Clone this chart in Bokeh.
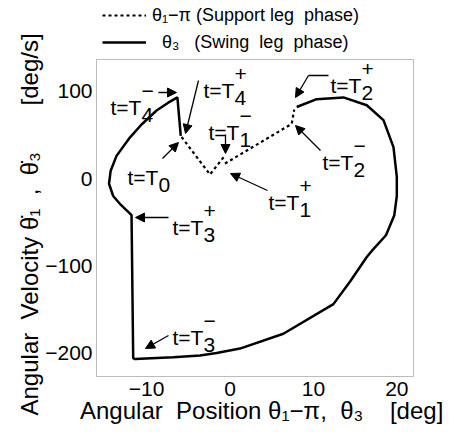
import numpy as np
from bokeh.plotting import figure
from bokeh.models import (Range1d, FixedTicker, Label, Arrow, NormalHead, Legend, LegendItem,
                          BoxAnnotation, Title)
from bokeh.embed import file_html
from bokeh.resources import INLINE

NB = "\u00a0"  # non-breaking space (keeps multiple spaces in SVG text)

# ---------------- data ----------------
# swing leg theta3 (deg) / dtheta3 (deg/s), from T2+ clockwise to T4-, then jump to T4+
swing_pos = [8.0, 10.4, 13.6, 16.4, 18.4, 19.6, 20.0, 20.0, 19.7, 18.7, 17.0, 16.4,
             14.4, 12.4, 6.4, 1.2, -1.6, -3.6, -6.8, -11.4, -11.6,
             -11.8, -13.1, -14.0, -14.5, -14.3, -13.6, -12.0, -10.6, -8.8, -7.4, -6.3, -5.9]
swing_vel = [82, 91, 93, 84, 67, 36, 2, -20, -42, -65, -83, -90,
             -118, -144, -178, -195, -200, -203, -205, -207, -206,
             -42, -30, -20, -6, 9, 26, 47, 62, 78, 87, 93, 49]
# support leg theta1 - pi : T0 -> T1-  and  T1+ -> T2- -> T2+
support_pos_a = [-5.8, -2.4, -0.7]
support_vel_a = [47.6, 4.6, 25.2]
support_pos_b = [-0.6, 7.4, 7.7]
support_vel_b = [17.2, 62.7, 79.0]

x_ticks = [-10, 0, 10, 20]
y_ticks = [-200, -100, 0, 100]
x_tick_labels = ["\u221210", "0", "10", "20"]
y_tick_labels = ["\u2212200", "\u2212100", "0", "100"]

legend_labels = ["\u03b8\u2081\u2212\u03c0 (Support leg  phase)",
                 "  \u03b8\u2083   (Swing  leg  phase)"]
x_title = "  Angular  Position \u03b8\u2081\u2212\u03c0,  \u03b8\u2083    [deg]"
y_title = "Angular  Velocity \u03b8\u0307\u2081  ,  \u03b8\u0307\u2083       [deg/s]"

# axes box limits
X0, X1 = -16, 22
Y0, Y1 = -227, 136.5

# ---------------- layout (page pixels) ----------------
BOX_L, BOX_T, BOX_W, BOX_H = 96, 59, 317, 317
SX = BOX_W / (X1 - X0)
SY = BOX_H / (Y1 - Y0)
FR_L, FR_T, FR_R, FR_B = 95, 0, 414, 377        # frame spans legend strip + axes box
W, H = 452, 432

p = figure(frame_width=FR_R - FR_L, frame_height=FR_B - FR_T,
           min_border_left=FR_L, min_border_top=FR_T,
           min_border_right=W - FR_R, min_border_bottom=H - FR_B,
           x_range=Range1d(X0 - (BOX_L - FR_L) / SX, X1 + (FR_R - BOX_L - BOX_W) / SX),
           y_range=Range1d(Y0 - (FR_B - BOX_T - BOX_H) / SY, Y1 + (BOX_T - FR_T) / SY),
           output_backend="svg", toolbar_location=None)
p.grid.visible = False
p.background_fill_color = "white"
p.border_fill_color = "white"
p.outline_line_color = None

for ax, ticks, labs in ((p.xaxis[0], x_ticks, x_tick_labels), (p.yaxis[0], y_ticks, y_tick_labels)):
    ax.ticker = FixedTicker(ticks=ticks)
    ax.major_label_overrides = {float(t): l for t, l in zip(ticks, labs)}
    ax.major_tick_in = 0
    ax.major_tick_out = 0
    ax.minor_tick_in = 0
    ax.minor_tick_out = 0
    ax.axis_line_color = None
    ax.major_label_text_font = "Liberation Sans"
    ax.major_label_text_font_size = "21px"
    ax.major_label_text_color = "black"
    ax.axis_label_text_font = "Liberation Sans"
    ax.axis_label_text_font_size = "24px"
    ax.axis_label_text_font_style = "normal"
    ax.axis_label_text_color = "black"

p.xaxis[0].major_label_standoff = 4
p.yaxis[0].major_label_standoff = 3
p.xaxis[0].axis_label = x_title.replace(" ", NB)
p.xaxis[0].axis_label_standoff = -2

# y-axis title: starts below the box, reads upward
p.add_layout(Title(text=y_title.replace(" ", NB), align="left", offset=-38, standoff=0,
                   text_font="Liberation Sans", text_font_size="24px",
                   text_font_style="normal", text_color="black"), "left")

# axes box
p.add_layout(BoxAnnotation(left=X0, right=X1, bottom=Y0, top=Y1, fill_alpha=0,
                           line_color="#222222", line_width=1))

r_swing = p.line(swing_pos, swing_vel, line_color="black", line_width=2.5)
r_sup_a = p.line(support_pos_a, support_vel_a, line_color="black", line_width=2.2, line_dash="3 3")
r_sup_b = p.line(support_pos_b, support_vel_b, line_color="black", line_width=2.2, line_dash="3 3")

legend = Legend(items=[LegendItem(label=legend_labels[0].replace(" ", NB), renderers=[r_sup_a]),
                       LegendItem(label=legend_labels[1].replace(" ", NB), renderers=[r_swing])],
                location=(102 - FR_L, FR_B - 55), orientation="vertical",
                glyph_width=44, glyph_height=26, label_height=26, spacing=1,
                padding=0, margin=0, label_standoff=6,
                label_text_font="Liberation Sans", label_text_font_size="18px",
                label_text_color="black", border_line_color=None,
                background_fill_alpha=0)
p.add_layout(legend)


def P(px, py):
    return X0 + (px - BOX_L) / SX, Y1 - (py - BOX_T) / SY


def lab(text, px, py, size, font="Liberation Sans"):
    x, y = P(px, py)
    p.add_layout(Label(x=x, y=y, text=text, text_font=font, text_font_size=f"{size}px",
                       text_color="black", text_baseline="alphabetic", text_align="left"))


def arrow(px0, py0, px1, py1, head=True, width=1.3):
    x0, y0 = P(px0, py0)
    x1, y1 = P(px1, py1)
    end = NormalHead(size=9, fill_color="black", line_color="black", line_width=1) if head else None
    p.add_layout(Arrow(x_start=x0, y_start=y0, x_end=x1, y_end=y1, end=end,
                       line_color="black", line_width=width))


def tlab(px, py, sub, sup):
    lab("t=T", px, py, 21)
    lab(sub, px + 31, py + 7, 21)
    if sup:
        lab(sup, px + 31, py - 17, 21)


# event annotations
tlab(110, 107, "4", "\u2212"); arrow(158, 92, 176, 92)
tlab(203, 90, "4", "+");       arrow(198, 80, 185, 133)
tlab(208, 132, "1", "\u2212"); arrow(225, 134, 225, 153)
tlab(127, 177, "0", None);     arrow(162, 158, 178, 142)
tlab(330, 85, "2", "+");       arrow(328, 75, 308, 75, head=False); arrow(308, 75, 295, 97)
tlab(322, 162, "2", "\u2212"); arrow(320, 150, 295, 125)
tlab(268, 202, "1", "+");      arrow(267, 190, 230, 173)
tlab(172, 227, "3", "+");      arrow(168, 217, 135, 217)
tlab(172, 337, "3", "\u2212"); arrow(168, 335, 145, 348)

open("out.html", "w").write(file_html(p, INLINE))
